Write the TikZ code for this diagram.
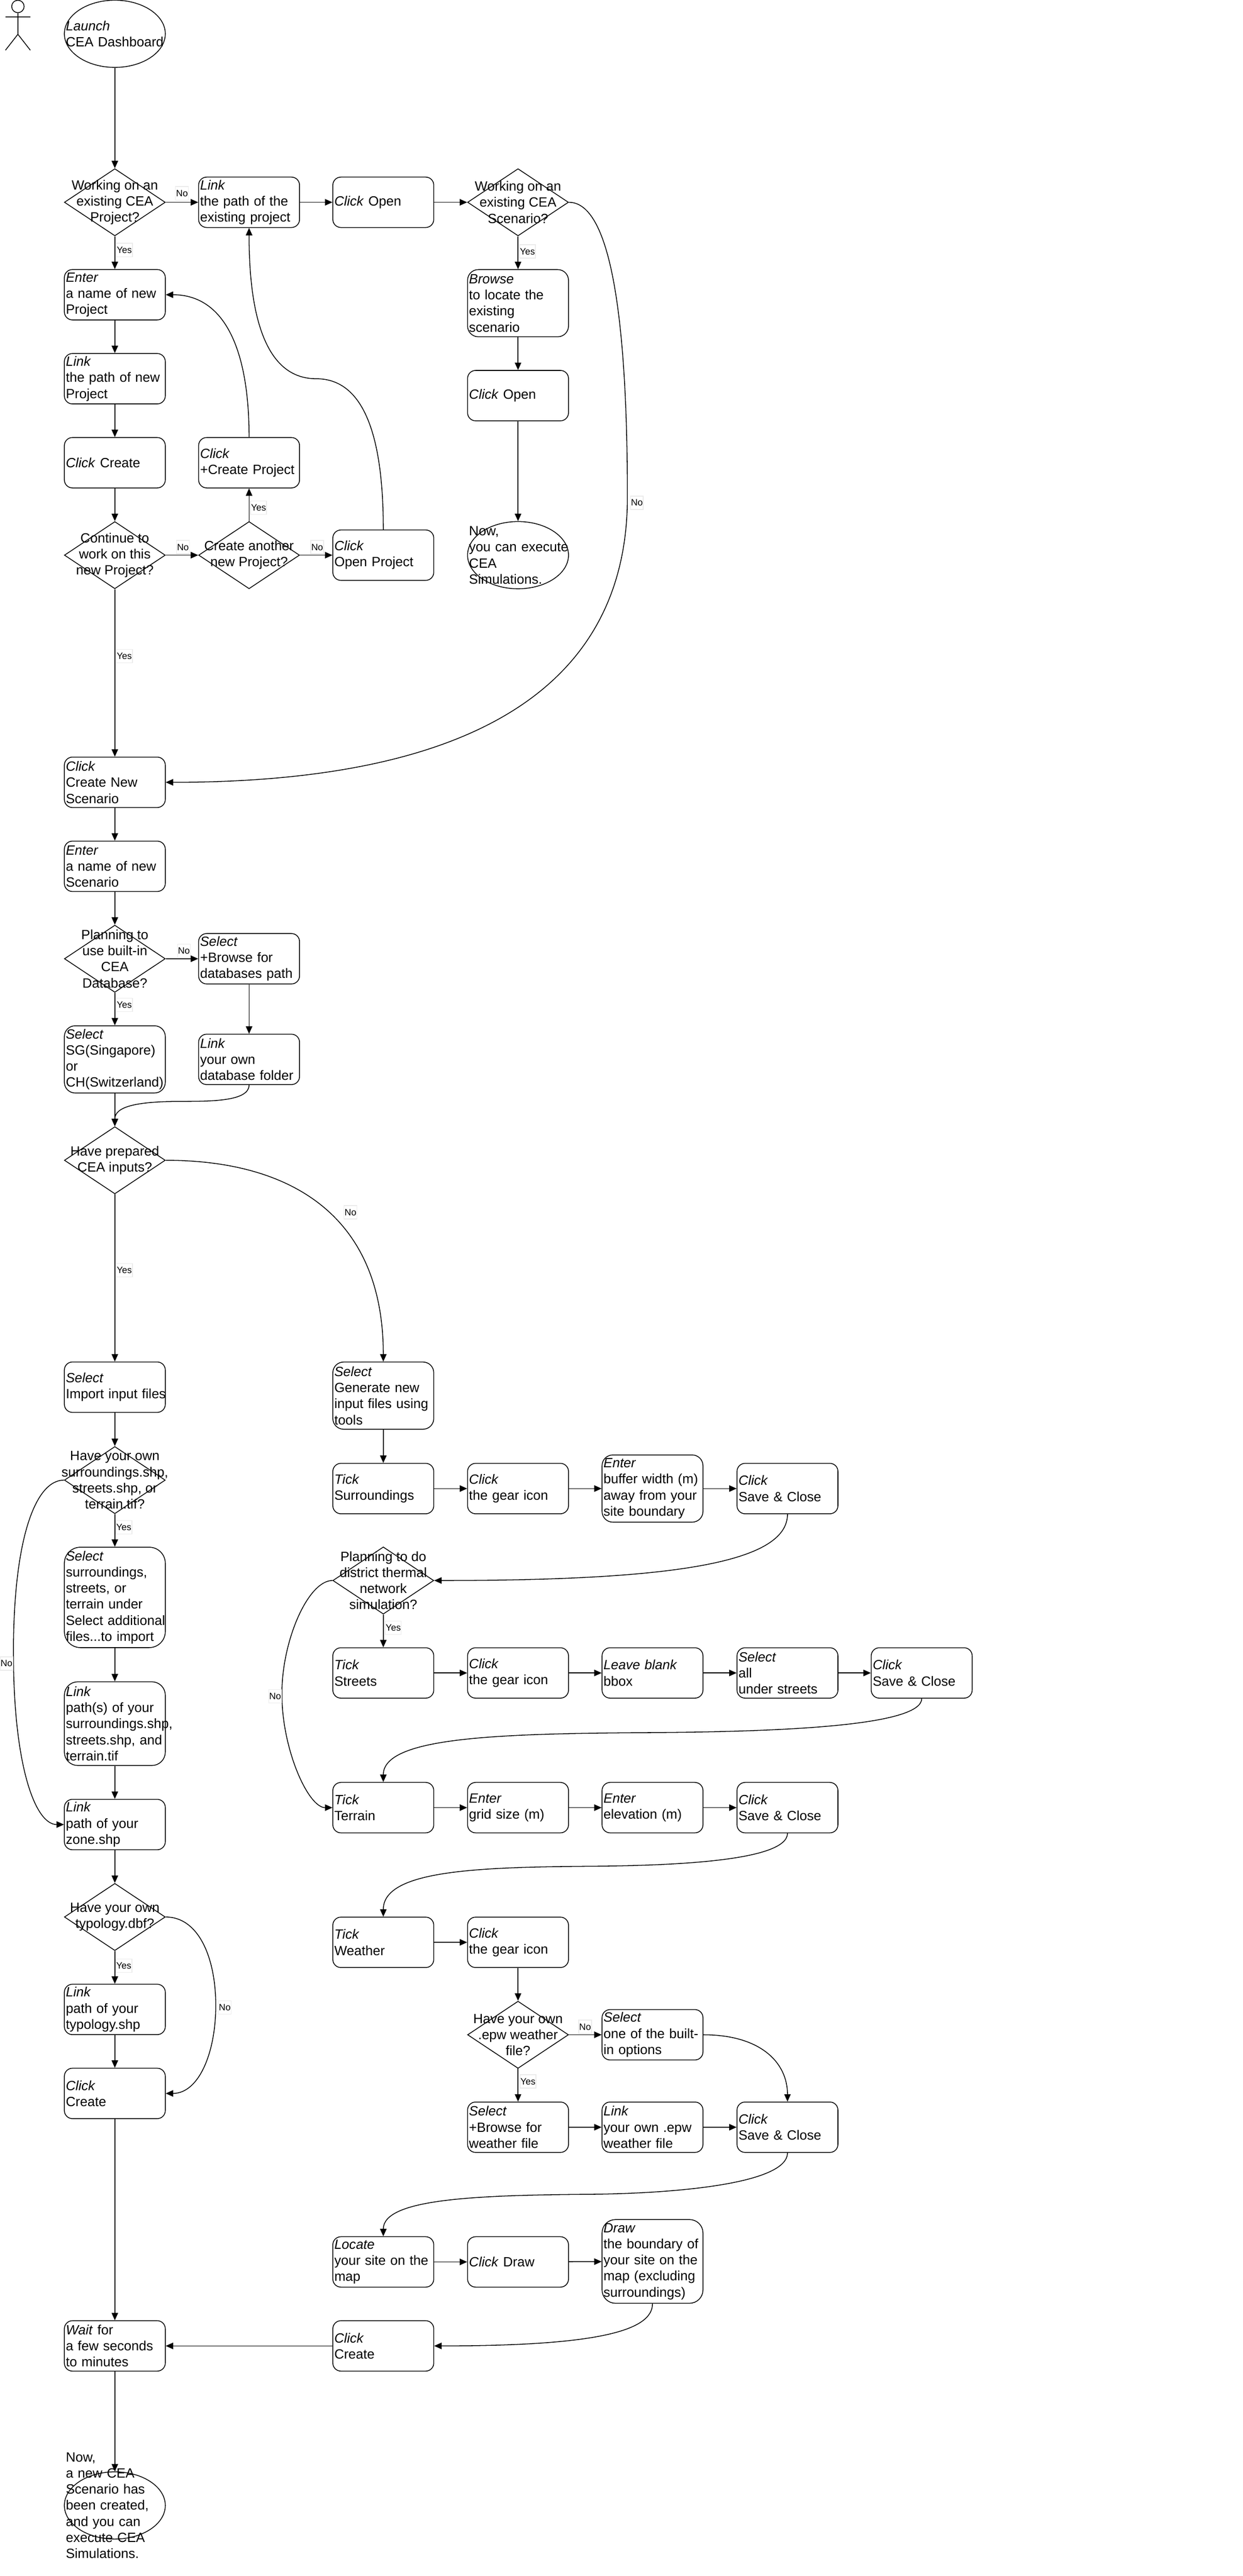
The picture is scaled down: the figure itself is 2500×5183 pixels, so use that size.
\documentclass[tikz,border=0pt]{standalone}
\usepackage{fontspec}
\setmainfont{Liberation Sans}
\usetikzlibrary{arrows.meta,shapes.geometric}

\tikzset{
    act/.style={rectangle,draw,rounded corners={0.16*#1},minimum height=#1,text width=98.5pt,
        inner xsep=1.5pt,inner ysep=0pt,align=left,font=\fontsize{13.5}{16.2}\selectfont},
    act/.default=50.7pt,
    dectxt/.style={align=center,inner sep=0pt,font=\fontsize{13.5}{16.2}\selectfont},
    endtxt/.style={text width=98.5pt,inner xsep=1.5pt,inner ysep=0pt,align=left,font=\fontsize{13.5}{16.2}\selectfont},
    decision/.style={diamond,draw,inner sep=0pt,minimum width=101.5pt,minimum height=67.6pt,
        label={[dectxt]center:#1}},
    terminal/.style={ellipse,draw,inner sep=0pt,minimum width=101.5pt,minimum height=67.6pt,
        label={[endtxt]center:#1}},
    lab/.style={draw=black!8,fill=white,inner sep=0.5pt,minimum height=13.5pt,font=\fontsize{9.3}{11}\selectfont},
    flow/.style={draw,-{Triangle[length=7.5pt,width=6.5pt]}},
}

\begin{document}
\begin{tikzpicture}[x=0.5pt,y=-0.5pt,line width=0.8pt]
\useasboundingbox (0,0) rectangle (2500,5183);

% actor
\node[circle,draw,inner sep=0pt,minimum size=12.5pt] (head) at (36,13) {};
\draw (head.south) -- (36,69) -- (11,101) (36,69) -- (61,101) (11,34) -- (61,34);

% start, ends and decisions
\node[terminal={\textit{Launch}\\\mbox{CEA Dashboard}}] (launch) at (231,68) {};
\node[terminal={Now,\\\mbox{you can execute}\\CEA\\Simulations.}] (end1) at (1042,1117) {};
\node[terminal={Now,\\a new CEA\\Scenario has\\been created,\\and you can\\execute CEA\\Simulations.}] (end2) at (231,5041) {};

\node[decision={Working on an\\existing CEA\\Project?}] (d1) at (231,407) {};
\node[decision={Working on an\\existing CEA\\Scenario?}] (d2) at (1042,407) {};
\node[decision={Continue to\\work on this\\new Project?}] (d3) at (231,1117) {};
\node[decision={Create another\\new Project?}] (d4) at (501,1117) {};
\node[decision={Planning to\\use built-in\\CEA\\Database?}] (d5) at (231,1929) {};
\node[decision={Have prepared\\CEA inputs?}] (d6) at (231,2334.5) {};
\node[decision={Have your own\\surroundings.shp,\\streets.shp, or\\terrain.tif?}] (d7) at (231,2978) {};
\node[decision={Have your own\\typology.dbf?}] (d8) at (231,3857) {};
\node[decision={Planning to do\\district thermal\\network\\simulation?}] (d9) at (771,3180) {};
\node[decision={Have your own\\.epw weather\\file?}] (d10) at (1042,4094) {};

\begin{scope}[every node/.style={act}]
    % new project column
    \node (a1) at (231,593) {\textit{Enter}\\a name of new\\Project};
    \node (a2) at (231,762) {\textit{Link}\\the path of new\\Project};
    \node (a3) at (231,931) {\textit{Click} Create};
    \node (a4) at (501,931) {\textit{Click}\\\mbox{+Create Project}};
    \node (a5) at (771,1117) {\textit{Click}\\Open Project};
    \node (a6) at (501,407) {\textit{Link}\\the path of the\\\mbox{existing project}};
    \node (a7) at (771,407) {\textit{Click} Open};
    \node[act=67.6pt] (a8) at (1042,610) {\textit{Browse}\\to locate the\\existing\\scenario};
    \node (a9) at (1042,796) {\textit{Click} Open};

    % new scenario
    \node (b1) at (231,1574) {\textit{Click}\\Create New\\Scenario};
    \node (b2) at (231,1743) {\textit{Enter}\\a name of new\\Scenario};
    \node (b3) at (501,1929) {\textit{Select}\\+Browse for\\\mbox{databases path}};
    \node[act=67.6pt] (b4) at (231,2131.5) {\textit{Select}\\SG(Singapore)\\or\\CH(Switzerland)};
    \node (b5) at (501,2131.5) {\textit{Link}\\your own\\\mbox{database folder}};

    % import input files
    \node (c1) at (231,2791) {\textit{Select}\\\mbox{Import input files}};
    \node[act=101pt] (c2) at (231,3214) {\textit{Select}\\surroundings,\\streets, or\\terrain under\\\mbox{Select additional}\\\mbox{files...to import}};
    \node[act=84.2pt] (c3) at (231,3468) {\textit{Link}\\path(s) of your\\\mbox{surroundings.shp,}\\streets.shp, and\\terrain.tif};
    \node (c4) at (231,3671) {\textit{Link}\\path of your\\zone.shp};
    \node (c5) at (231,4043) {\textit{Link}\\path of your\\typology.shp};
    \node (c6) at (231,4212) {\textit{Click}\\Create};
    \node (c7) at (231,4720) {\textit{Wait} for\\\mbox{a few seconds}\\to minutes};

    % generate input files
    \node[act=67.6pt] (g0) at (771,2808) {\textit{Select}\\Generate new\\\mbox{input files using}\\tools};
    \node (s1) at (771,2995) {\textit{Tick}\\Surroundings};
    \node (s2) at (1042,2995) {\textit{Click}\\the gear icon};
    \node[act=67.6pt] (s3) at (1312.5,2995) {\textit{Enter}\\\mbox{buffer width (m)}\\\mbox{away from your}\\site boundary};
    \node (s4) at (1584,2995) {\textit{Click}\\Save \& Close};

    \node (r1) at (771,3366) {\textit{Tick}\\Streets};
    \node (r2) at (1042,3366) {\textit{Click}\\the gear icon};
    \node (r3) at (1312.5,3366) {\textit{Leave blank}\\bbox};
    \node (r4) at (1584,3366) {\textit{Select}\\all\\under streets};
    \node (r5) at (1854,3366) {\textit{Click}\\Save \& Close};

    \node (t1) at (771,3637) {\textit{Tick}\\Terrain};
    \node (t2) at (1042,3637) {\textit{Enter}\\grid size (m)};
    \node (t3) at (1312.5,3637) {\textit{Enter}\\elevation (m)};
    \node (t4) at (1584,3637) {\textit{Click}\\Save \& Close};

    \node (w1) at (771,3908) {\textit{Tick}\\Weather};
    \node (w2) at (1042,3908) {\textit{Click}\\the gear icon};
    \node (w3) at (1312.5,4094) {\textit{Select}\\\mbox{one of the built-}\\in options};
    \node (w4) at (1042,4280) {\textit{Select}\\+Browse for\\weather file};
    \node (w5) at (1312.5,4280) {\textit{Link}\\your own .epw\\weather file};
    \node (w6) at (1584,4280) {\textit{Click}\\Save \& Close};

    \node (m1) at (771,4551) {\textit{Locate}\\\mbox{your site on the}\\map};
    \node (m2) at (1042,4551) {\textit{Click} Draw};
    \node[act=84.2pt] (m3) at (1312.5,4550) {\textit{Draw}\\\mbox{the boundary of}\\\mbox{your site on the}\\\mbox{map (excluding}\\surroundings)};
    \node (m4) at (771,4720) {\textit{Click}\\Create};
\end{scope}

% straight connectors
\path [flow] (launch) edge (d1);
\path [flow] (d1) edge (a6);
\path [flow] (a6) edge (a7);
\path [flow] (a7) edge (d2);
\path [flow] (d2) edge (a8);
\path [flow] (a8) edge (a9);
\path [flow] (a9) edge (end1);
\path [flow] (d1) edge (a1);
\path [flow] (a1) edge (a2);
\path [flow] (a2) edge (a3);
\path [flow] (a3) edge (d3);
\path [flow] (d3) edge (d4);
\path [flow] (d4) edge (a4);
\path [flow] (d4) edge (a5);
\path [flow] (d3) edge (b1);

\path [flow] (b1) edge (b2);
\path [flow] (b2) edge (d5);
\path [flow] (d5) edge (b3);
\path [flow] (d5) edge (b4);
\path [flow] (b3) edge (b5);
\path [flow] (b4) edge (d6);
\path [flow] (d6) edge (c1);

\path [flow] (c1) edge (d7);
\path [flow] (d7) edge (c2);
\path [flow] (c2) edge (c3);
\path [flow] (c3) edge (c4);
\path [flow] (c4) edge (d8);
\path [flow] (d8) edge (c5);
\path [flow] (c5) edge (c6);
\path [flow] (c6) edge (c7);
\path [flow] (c7) edge (end2);

\path [flow] (g0) edge (s1);
\path [flow] (s1) edge (s2);
\path [flow] (s2) edge (s3);
\path [flow] (s3) edge (s4);
\path [flow] (d9) edge (r1);
\path [flow] (r1) edge (r2);
\path [flow] (r2) edge (r3);
\path [flow] (r3) edge (r4);
\path [flow] (r4) edge (r5);
\path [flow] (t1) edge (t2);
\path [flow] (t2) edge (t3);
\path [flow] (t3) edge (t4);
\path [flow] (w1) edge (w2);
\path [flow] (w2) edge (d10);
\path [flow] (d10) edge (w3);
\path [flow] (d10) edge (w4);
\path [flow] (w4) edge (w5);
\path [flow] (w5) edge (w6);
\path [flow] (m1) edge (m2);
\path [flow] (m2) edge (m3);
\path [flow] (m4) edge (c7);

% curved connectors
\draw [flow] (d2.east) .. controls (1230,407) and (1262,650) .. (1262,1000)
    .. controls (1262,1350) and (1000,1574) .. (b1.east);
\draw [flow] (a4.north) .. controls (501,700) and (450,593) .. (a1.east);
\draw [flow] (a5.north) .. controls (771,850) and (720,762) .. (636,762)
    .. controls (540,762) and (501,650) .. (a6.south);
\draw [flow] (b5.south) .. controls (501,2215) and (430,2216) .. (366,2216)
    .. controls (280,2216) and (231,2225) .. (d6.north);
\draw [flow] (d6.east) .. controls (590,2334.5) and (771,2450) .. (g0.north);
\draw [flow] (d7.west) .. controls (70,2978) and (27,3100) .. (27,3325)
    .. controls (27,3550) and (70,3671) .. (c4.west);
\draw [flow] (d8.east) .. controls (400,3857) and (434,3940) .. (434,4035)
    .. controls (434,4130) and (400,4212) .. (c6.east);
\draw [flow] (s4.south) .. controls (1584,3145) and (1350,3180) .. (d9.east);
\draw [flow] (d9.west) .. controls (620,3180) and (567,3300) .. (567,3408)
    .. controls (567,3520) and (620,3637) .. (t1.west);
\draw [flow] (r5.south) .. controls (1854,3470) and (1600,3484) .. (1312,3486)
    .. controls (1000,3488) and (771,3495) .. (t1.north);
\draw [flow] (t4.south) .. controls (1584,3745) and (1350,3754) .. (1177,3755)
    .. controls (950,3757) and (771,3765) .. (w1.north);
\draw [flow] (w3.east) .. controls (1530,4094) and (1584,4150) .. (w6.north);
\draw [flow] (w6.south) .. controls (1584,4395) and (1350,4414) .. (1177,4415)
    .. controls (950,4417) and (771,4425) .. (m1.north);
\draw [flow] (m3.south) .. controls (1312.5,4690) and (1200,4720) .. (m4.east);

% yes and no labels
\begin{scope}[every node/.style={lab}]
    \node (n1) at (366,389) {No};
    \node (y1) at (250,503) {Yes};
    \node (y2) at (1061,506) {Yes};
    \node (y3) at (520,1021.5) {Yes};
    \node (n2) at (1281,1011.5) {No};
    \node (n3) at (368,1101) {No};
    \node (n4) at (638,1101) {No};
    \node (y4) at (250,1320) {Yes};
    \node (n5) at (370,1913) {No};
    \node (y5) at (250,2022) {Yes};
    \node (n6) at (705,2439) {No};
    \node (y6) at (250,2555.5) {Yes};
    \node (y7) at (249,3073) {Yes};
    \node (n7) at (13,3347) {No};
    \node (y8) at (791,3275) {Yes};
    \node (n8) at (553.5,3413) {No};
    \node (y9) at (249,3955) {Yes};
    \node (n9) at (452,4039) {No};
    \node (y10) at (1062,4188) {Yes};
    \node (n10) at (1177,4078) {No};
\end{scope}

\end{tikzpicture}
\end{document}
